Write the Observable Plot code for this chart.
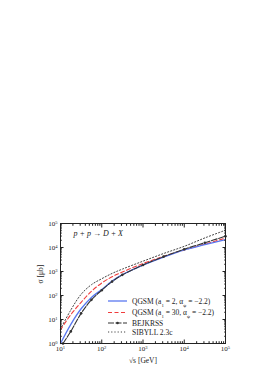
<!DOCTYPE html>
<html><head><meta charset="utf-8">
<script src="https://cdn.jsdelivr.net/npm/d3@7"></script>
<script src="https://cdn.jsdelivr.net/npm/@observablehq/plot@0.6"></script>
<style>body{margin:0;background:#fff} svg{display:block}</style>
</head><body><div id="chart"></div>
<script>
// √s in GeV, σ in μb
const sqrtS = [10, 17.8, 31.6, 56.2, 100, 178, 316, 1000, 3162, 10000, 31623, 100000];
const sqrtSBejkrss = [11.5, 17.8, 31.6, 56.2, 100, 178, 316, 1000, 3162, 10000, 31623, 100000];
const sigmaQgsmA2 = [1, 6.3, 28, 83, 178, 398, 740, 1860, 3980, 7940, 13200, 21400];
const sigmaQgsmA30 = [3.7, 16, 52, 151, 331, 603, 955, 2140, 4270, 7940, 13800, 24500];
const sigmaBejkrss = [1, 3.2, 18, 66, 166, 380, 724, 1860, 4170, 8510, 15800, 29500];
const sigmaSibyll = [4, 25, 112, 282, 500, 832, 1260, 2690, 5620, 11200, 25100, 52500];

const seriesKeys = ["qgsm2", "qgsm30", "bejkrss", "sibyll"];
const seriesLabels = ["QGSM (a_{1} = 2, α_{ψ} = −2.2)", "QGSM (a_{1} = 30, α_{ψ} = −2.2)", "BEJKRSS", "SIBYLL 2.3c"];
const xMajor = [10, 100, 1000, 10000, 100000];
const yMajor = [1, 10, 100, 1000, 10000, 100000];
const reactionLabel = "p + p → D + X";
const xLabel = "√s [GeV]";
const yLabel = "σ [μb]";

const styles = {
  qgsm2:   {stroke: "#5a78f0", strokeWidth: 1.3, dash: null},
  qgsm30:  {stroke: "#f03c3c", strokeWidth: 1.1, dash: "4,2.5"},
  bejkrss: {stroke: "#333", strokeWidth: 1.1, dash: "6,1.5"},
  sibyll:  {stroke: "#444", strokeWidth: 1.0, dash: "1.2,2"}
};

const toRows = (xs, ys) => xs.map((x, i) => ({x, y: ys[i]}));
const rows = {
  qgsm2: toRows(sqrtS, sigmaQgsmA2),
  qgsm30: toRows(sqrtS, sigmaQgsmA30),
  bejkrss: toRows(sqrtSBejkrss, sigmaBejkrss),
  sibyll: toRows(sqrtS, sigmaSibyll)
};

const minorOf = (majors) => majors.slice(0, -1).flatMap(m => d3.range(2, 10).map(k => k * m));
const xMinor = minorOf(xMajor), yMinor = minorOf(yMajor);
const fmt = d => "10^{" + Math.round(Math.log10(d)) + "}";
const blank = () => "";

const lineMark = key => Plot.line(rows[key], {
  x: "x", y: "y", curve: "catmull-rom",
  stroke: styles[key].stroke, strokeWidth: styles[key].strokeWidth,
  strokeDasharray: styles[key].dash
});

const plot = Plot.plot({
  width: 275, height: 390,
  marginLeft: 60, marginRight: 50, marginTop: 223, marginBottom: 47,
  style: {fontFamily: "'Liberation Serif', 'DejaVu Serif', serif", fontSize: "7px", color: "#222", background: "#fff"},
  x: {type: "log", domain: [10, 1e5]},
  y: {type: "log", domain: [1, 1e5]},
  marks: [
    lineMark("sibyll"),
    lineMark("qgsm30"),
    lineMark("qgsm2"),
    lineMark("bejkrss"),
    Plot.dot(rows.bejkrss, {x: "x", y: "y", r: 1.3, fill: "#333"}),
    // inward major/minor ticks on all four sides
    ...["bottom", "top"].flatMap(a => [
      Plot.axisX({anchor: a, ticks: xMajor, tickSize: -3.5, tickFormat: blank, label: null}),
      Plot.axisX({anchor: a, ticks: xMinor, tickSize: -1.8, tickFormat: blank, label: null})
    ]),
    ...["left", "right"].flatMap(a => [
      Plot.axisY({anchor: a, ticks: yMajor, tickSize: -3.5, tickFormat: blank, label: null}),
      Plot.axisY({anchor: a, ticks: yMinor, tickSize: -1.8, tickFormat: blank, label: null})
    ]),
    Plot.axisX({anchor: "bottom", ticks: xMajor, tickSize: 0, tickPadding: 3, tickFormat: fmt, label: null}),
    Plot.axisY({anchor: "left", ticks: yMajor, tickSize: 0, tickPadding: 3, tickFormat: fmt, label: null}),
    Plot.frame({stroke: "#222", strokeWidth: 1}),
    Plot.text([reactionLabel], {frameAnchor: "top-left", dx: 13, dy: 7, textAnchor: "start", fontSize: 8, fontStyle: "italic", fill: "#222"}),
    Plot.text([xLabel], {frameAnchor: "bottom", dy: 19, fontSize: 7.5, fill: "#222"}),
    Plot.text([yLabel], {frameAnchor: "left", dx: -20, rotate: -90, fontSize: 7.5, fill: "#222"})
  ]
});

// legend inside the frame (lower right)
const svg = d3.select(plot);
const leg = svg.append("g").attr("font-size", 7.5).attr("fill", "#222").attr("text-anchor", "start");
const rowY = [301, 312.5, 323, 332];
seriesKeys.forEach((key, i) => {
  const s = styles[key];
  leg.append("line").attr("x1", 108).attr("x2", 127).attr("y1", rowY[i]).attr("y2", rowY[i])
    .attr("stroke", s.stroke).attr("stroke-width", s.strokeWidth).attr("stroke-dasharray", s.dash);
  if (key === "bejkrss") leg.append("circle").attr("cx", 117.5).attr("cy", rowY[i]).attr("r", 1.3).attr("fill", "#333");
  leg.append("text").attr("x", 132).attr("y", rowY[i]).attr("dy", "0.35em").attr("text-anchor", "start").text(seriesLabels[i]);
});

// rich text: _{sub} and ^{sup}
svg.selectAll("text").each(function() {
  const s = this.textContent;
  if (!/[_^]\{/.test(s)) return;
  const el = d3.select(this);
  el.text("");
  const re = /([_^])\{([^}]*)\}/g;
  let last = 0, m;
  while ((m = re.exec(s))) {
    if (m.index > last) el.append("tspan").text(s.slice(last, m.index));
    el.append("tspan").attr("font-size", "65%")
      .attr("baseline-shift", m[1] === "^" ? "super" : "sub").text(m[2]);
    last = re.lastIndex;
  }
  if (last < s.length) el.append("tspan").text(s.slice(last));
});

document.getElementById("chart").append(plot);
</script>
</body></html>
